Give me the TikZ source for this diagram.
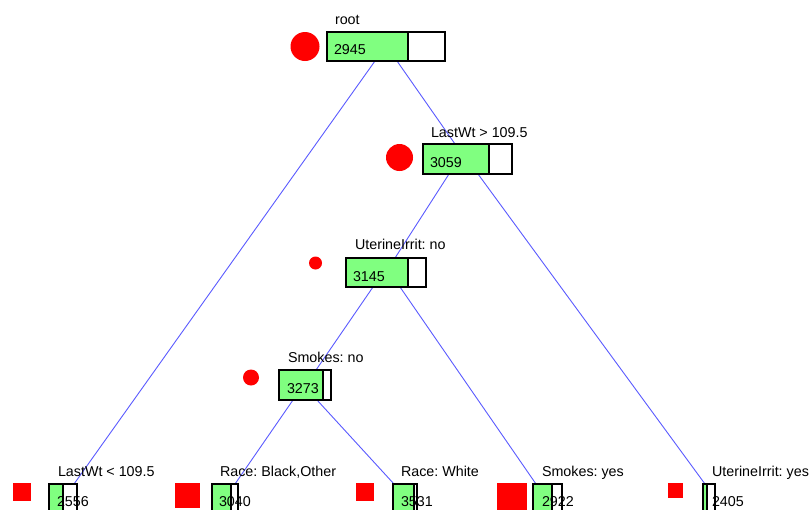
\documentclass[tikz,border=0pt]{standalone}
\usepackage{fontspec}
\setmainfont{Liberation Sans}
\frenchspacing
\definecolor{boxgreen}{RGB}{128,255,128}
\definecolor{edgeblue}{RGB}{90,90,255}
\begin{document}
\begin{tikzpicture}[x=1pt,y=-1pt,
  every node/.style={inner sep=0pt,outer sep=0pt},
  lbl/.style={anchor=base west,font=\fontsize{14.3}{16}\selectfont},
  frame/.style={draw=black,line width=1.3pt,anchor=north west},
  gbar/.style={fill=boxgreen,anchor=north west},
  edge/.style={draw=edgeblue,line width=0.9pt},
  dot/.style={circle,fill=red},
  sq/.style={fill=red,anchor=north west}]
\useasboundingbox (0,0) rectangle (811,509);
\clip (0,0) rectangle (811,509);
% ---------- edges ----------
\coordinate (rL) at (375,61);   \coordinate (rR) at (397,61);
\coordinate (aL) at (449,174);  \coordinate (aR) at (478,174);
\coordinate (bL) at (373,287);  \coordinate (bR) at (400,287);
\coordinate (cL) at (293,400);  \coordinate (cR) at (317,400);
\coordinate (aT) at (455,144);  \coordinate (bT) at (395,258);
\coordinate (cT) at (316,370);
\coordinate (l1T) at (74,484);  \coordinate (l2T) at (235,484);
\coordinate (l3T) at (394,484); \coordinate (l4T) at (536,484);
\coordinate (l5T) at (705,484);
\draw[edge] (rL) -- (l1T);
\draw[edge] (rR) -- (aT);
\draw[edge] (aL) -- (bT);
\draw[edge] (aR) -- (l5T);
\draw[edge] (bL) -- (cT);
\draw[edge] (bR) -- (l4T);
\draw[edge] (cL) -- (l2T);
\draw[edge] (cR) -- (l3T);
% ---------- root ----------
\node[gbar,minimum width=81pt,minimum height=29pt] (rg) at (327,32) {};
\node[frame,minimum width=118pt,minimum height=29pt] (r) at (327,32) {};
\draw[line width=1.3pt] (rg.north east) -- (rg.south east);
\node[dot,minimum size=29pt] (rc) at (305,46.5) {};
\node[lbl] (rt) at (335,24) {root};
\node[lbl] (rn) at (334,54) {2945};
% ---------- node a ----------
\node[gbar,minimum width=66pt,minimum height=30pt] (ag) at (423,144) {};
\node[frame,minimum width=89pt,minimum height=30pt] (a) at (423,144) {};
\draw[line width=1.3pt] (ag.north east) -- (ag.south east);
\node[dot,minimum size=27pt] (ac) at (399.5,157.5) {};
\node[lbl] (at_) at (431,137) {LastWt > 109.5};
\node[lbl] (an) at (430,167) {3059};
% ---------- node b ----------
\node[gbar,minimum width=62pt,minimum height=29pt] (bg) at (346,258) {};
\node[frame,minimum width=80pt,minimum height=29pt] (b) at (346,258) {};
\draw[line width=1.3pt] (bg.north east) -- (bg.south east);
\node[dot,minimum size=13pt] (bc) at (315.5,263) {};
\node[lbl] (bt) at (355,249) {UterineIrrit: no};
\node[lbl] (bn) at (353,281) {3145};
% ---------- node c ----------
\node[gbar,minimum width=44pt,minimum height=30pt] (cg) at (279,370) {};
\node[frame,minimum width=52pt,minimum height=30pt] (c) at (279,370) {};
\draw[line width=1.3pt] (cg.north east) -- (cg.south east);
\node[dot,minimum size=16pt] (cc) at (251,377.5) {};
\node[lbl] (ct) at (288,362) {Smokes: no};
\node[lbl] (cn) at (287,393) {3273};
% ---------- leaves ----------
% leaf 1
\node[gbar,minimum width=14pt,minimum height=40pt] (l1g) at (49,484) {};
\node[frame,minimum width=28pt,minimum height=40pt] (l1) at (49,484) {};
\draw[line width=1.3pt] (l1g.north east) -- (l1g.south east);
\node[sq,minimum size=18pt] (l1s) at (13,483) {};
\node[lbl] (l1t) at (58,476) {LastWt < 109.5};
\node[lbl] (l1n) at (57,506) {2556};
% leaf 2
\node[gbar,minimum width=19pt,minimum height=40pt] (l2g) at (212,484) {};
\node[frame,minimum width=26pt,minimum height=40pt] (l2) at (212,484) {};
\draw[line width=1.3pt] (l2g.north east) -- (l2g.south east);
\node[sq,minimum size=25pt] (l2s) at (175,483) {};
\node[lbl] (l2t) at (220,476) {Race: Black,Other};
\node[lbl] (l2n) at (219,506) {3040};
% leaf 3
\node[gbar,minimum width=21pt,minimum height=40pt] (l3g) at (393,484) {};
\node[frame,minimum width=24pt,minimum height=40pt] (l3) at (393,484) {};
\draw[line width=1.3pt] (l3g.north east) -- (l3g.south east);
\node[sq,minimum size=18pt] (l3s) at (356,483) {};
\node[lbl] (l3t) at (401,476) {Race: White};
\node[lbl] (l3n) at (401,506) {3531};
% leaf 4
\node[gbar,minimum width=19pt,minimum height=40pt] (l4g) at (533,484) {};
\node[frame,minimum width=29pt,minimum height=40pt] (l4) at (533,484) {};
\draw[line width=1.3pt] (l4g.north east) -- (l4g.south east);
\node[sq,minimum size=30pt] (l4s) at (497,483) {};
\node[lbl] (l4t) at (542,476) {Smokes: yes};
\node[lbl] (l4n) at (542,506) {2922};
% leaf 5
\node[gbar,minimum width=4pt,minimum height=40pt] (l5g) at (703,484) {};
\node[frame,minimum width=12pt,minimum height=40pt] (l5) at (703,484) {};
\draw[line width=1.3pt] (l5g.north east) -- (l5g.south east);
\node[sq,minimum size=15pt] (l5s) at (668,483) {};
\node[lbl] (l5t) at (712,476) {UterineIrrit: yes};
\node[lbl] (l5n) at (712,506) {2405};
\end{tikzpicture}
\end{document}
